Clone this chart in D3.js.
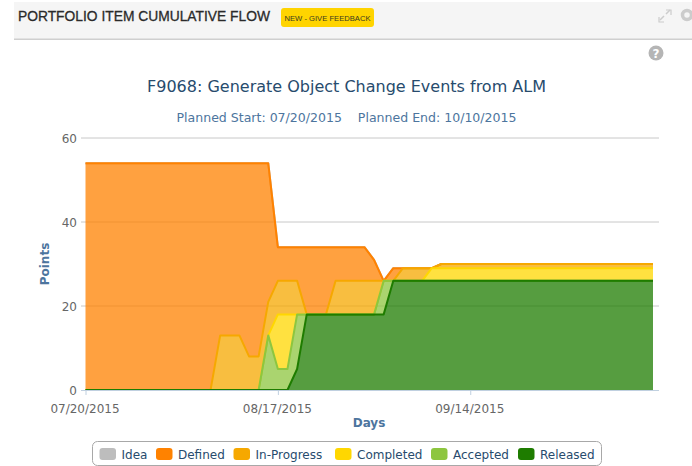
<!DOCTYPE html>
<html><head><meta charset="utf-8">
<style>
html,body{margin:0;padding:0;background:#fff;overflow:hidden}
svg{display:block}
text{font-family:"DejaVu Sans",sans-serif}
</style>
<script src="https://cdn.jsdelivr.net/npm/d3@7"></script>
</head><body>
<script>
const categories=["07/20/2015","07/21/2015","07/22/2015","07/23/2015","07/24/2015","07/27/2015","07/28/2015","07/29/2015","07/30/2015","07/31/2015",
"08/03/2015","08/04/2015","08/05/2015","08/06/2015","08/07/2015","08/10/2015","08/11/2015","08/12/2015","08/13/2015","08/14/2015",
"08/17/2015","08/18/2015","08/19/2015","08/20/2015","08/21/2015","08/24/2015","08/25/2015","08/26/2015","08/27/2015","08/28/2015",
"08/31/2015","09/01/2015","09/02/2015","09/03/2015","09/04/2015","09/07/2015","09/08/2015","09/09/2015","09/10/2015","09/11/2015",
"09/14/2015","09/15/2015","09/16/2015","09/17/2015","09/18/2015","09/21/2015","09/22/2015","09/23/2015","09/24/2015","09/25/2015",
"09/28/2015","09/29/2015","09/30/2015","10/01/2015","10/02/2015","10/05/2015","10/06/2015","10/07/2015","10/08/2015","10/09/2015"];
const xTickLabels=["07/20/2015","08/17/2015","09/14/2015"];
const yTickValues=[0,20,40,60];
const seriesNames=["Idea","Defined","In-Progress","Completed","Accepted","Released"];
const seriesColors=["#BDBDBD","#FF8200","#F6A800","#FFD700","#8DC63F","#1E7C00"];
const idea=[0,0,0,0,0,0,0,0,0,0,0,0,0,0,0,0,0,0,0,0,0,0,0,0,0,0,0,0,0,0,0,0,0,0,0,0,0,0,0,0,0,0,0,0,0,0,0,0,0,0,0,0,0,0,0,0,0,0,0,0];
const defined=[54,54,54,54,54,54,54,54,54,54,54,54,54,54,41,41,41,46,46,33,8,8,8,16,16,16,8,8,8,8,5,0,3,0,0,0,0,0,0,0,0,0,0,0,0,0,0,0,0,0,0,0,0,0,0,0,0,0,0,0];
const inProgress=[0,0,0,0,0,0,0,0,0,0,0,0,0,0,13,13,13,8,8,8,8,8,8,0,0,0,8,8,8,8,8,0,0,3,3,3,0,1,1,1,1,1,1,1,1,1,1,1,1,1,1,1,1,1,1,1,1,1,1,1];
const completed=[0,0,0,0,0,0,0,0,0,0,0,0,0,0,0,0,0,0,0,0,13,13,0,0,0,0,0,0,0,0,0,0,0,0,0,0,3,3,3,3,3,3,3,3,3,3,3,3,3,3,3,3,3,3,3,3,3,3,3,3];
const accepted=[0,0,0,0,0,0,0,0,0,0,0,0,0,0,0,0,0,0,0,13,5,5,13,0,0,0,0,0,0,0,0,8,0,0,0,0,0,0,0,0,0,0,0,0,0,0,0,0,0,0,0,0,0,0,0,0,0,0,0,0];
const released=[0,0,0,0,0,0,0,0,0,0,0,0,0,0,0,0,0,0,0,0,0,0,5,18,18,18,18,18,18,18,18,18,26,26,26,26,26,26,26,26,26,26,26,26,26,26,26,26,26,26,26,26,26,26,26,26,26,26,26,26];

const W=692,H=466;
const svg=d3.select("body").append("svg").attr("width",W).attr("height",H);

// header
svg.append("rect").attr("x",14).attr("y",2).attr("width",W-14).attr("height",37).attr("fill","#F5F5F5");
svg.append("rect").attr("x",14).attr("y",38.5).attr("width",W-14).attr("height",1.5).attr("fill","#CFCFCF");
svg.append("text").attr("x",18).attr("y",21).attr("font-size",14).attr("fill","#2a2a2a")
  .style("font-family","'Liberation Sans',sans-serif").style("paint-order","stroke").attr("stroke","#2a2a2a").attr("stroke-width",0.3)
  .attr("textLength",252).attr("lengthAdjust","spacingAndGlyphs").text("PORTFOLIO ITEM CUMULATIVE FLOW");
svg.append("rect").attr("x",281).attr("y",8).attr("width",93).attr("height",19).attr("rx",3).attr("fill","#FFD400");
svg.append("text").attr("x",327.5).attr("y",20.5).attr("text-anchor","middle").attr("font-size",8).attr("font-weight",400).attr("fill","#3a3a20")
  .style("font-family","'Liberation Sans',sans-serif").attr("textLength",86).attr("lengthAdjust","spacingAndGlyphs").text("NEW - GIVE FEEDBACK");
// expand + gear icons
const icon=svg.append("g").attr("stroke","#CCCCCC").attr("fill","none");
icon.append("path").attr("d","M660 20 L664 16 M666 14 L670 10").attr("stroke-width",1.5);
icon.append("path").attr("d","M666 10 h5 v5 M659 17 v5 h5").attr("stroke-width",1.2);
svg.append("circle").attr("cx",687).attr("cy",15).attr("r",4.5).attr("fill","none").attr("stroke","#CCCCCC").attr("stroke-width",3.5);
// help
svg.append("circle").attr("cx",656).attr("cy",53).attr("r",7.5).attr("fill","#B5B5B5");
svg.append("text").attr("x",656).attr("y",57.5).attr("text-anchor","middle").attr("font-size",12).attr("font-weight",700).attr("fill","#fff").text("?");

// titles
svg.append("text").attr("x",346.5).attr("y",92).attr("text-anchor","middle").attr("font-size",16).attr("fill","#274B6D")
  .attr("textLength",399).attr("lengthAdjust","spacingAndGlyphs").text("F9068: Generate Object Change Events from ALM");
svg.append("text").attr("x",346.5).attr("y",122).attr("text-anchor","middle").attr("font-size",12).attr("fill","#4D759E")
  .attr("textLength",340).attr("lengthAdjust","spacingAndGlyphs").style("white-space","pre").text("Planned Start: 07/20/2015    Planned End: 10/10/2015");

// scales
const x=d3.scalePoint().domain(categories).range([85.5,653]);
const y=d3.scaleLinear().domain([0,60]).range([390,138]);

// grid
const gridL=81,gridR=659;
svg.append("g").selectAll("line").data(yTickValues.filter(v=>v>0)).join("line")
  .attr("x1",gridL).attr("x2",gridR).attr("y1",d=>y(d)).attr("y2",d=>y(d)).attr("stroke","#C8C8C8").attr("stroke-width",1);

// stacked areas
const rows=categories.map((c,i)=>({c,Idea:idea[i],Defined:defined[i],"In-Progress":inProgress[i],Completed:completed[i],Accepted:accepted[i],Released:released[i]}));
const stack=d3.stack().keys(seriesNames.slice().reverse())(rows);
const byName=new Map(stack.map(s=>[s.key,s]));
const area=d3.area().x(d=>x(d.data.c)).y0(d=>y(d[0])).y1(d=>y(d[1]));
const line=d3.line().x(d=>x(d.data.c)).y(d=>y(d[1]));
seriesNames.forEach((n,i)=>{
  const s=byName.get(n);
  svg.append("path").datum(s).attr("d",area).attr("fill",seriesColors[i]).attr("fill-opacity",0.75);
  svg.append("path").datum(s).attr("d",line).attr("fill","none").attr("stroke",seriesColors[i]).attr("stroke-width",2).attr("stroke-linejoin","round");
});

// axes
const gx=svg.append("g").attr("transform","translate(0,390)")
  .call(d3.axisBottom(x).tickValues(xTickLabels).tickSize(5).tickPadding(9));
gx.select(".domain").remove();
gx.append("line").attr("x1",gridL).attr("x2",gridR).attr("y1",0.5).attr("y2",0.5).attr("stroke","#C0D0E0");
gx.selectAll(".tick line").attr("stroke","#C0D0E0");
gx.selectAll(".tick text").attr("fill","#666").attr("font-size",12).attr("dx",-1).style("font-family","'DejaVu Sans',sans-serif");

const gy=svg.append("g").attr("transform","translate(77,0.5)")
  .call(d3.axisLeft(y).tickValues(yTickValues).tickSize(0).tickPadding(0));
gy.select(".domain").remove();
gy.selectAll("text").attr("fill","#666").attr("font-size",12).style("font-family","'DejaVu Sans',sans-serif");

svg.append("text").attr("x",369).attr("y",427).attr("text-anchor","middle").attr("font-size",12).attr("font-weight",700).attr("fill","#4D759E").text("Days");
svg.append("text").attr("transform","translate(49,264) rotate(-90)").attr("text-anchor","middle").attr("font-size",12).attr("font-weight",700).attr("fill","#4D759E").text("Points");

// legend
svg.append("rect").attr("x",92.5).attr("y",441.5).attr("width",509).attr("height",24).attr("rx",5).attr("fill","#fff").attr("stroke","#A8A8A8");
const legendX=[99.5,156,233.5,335,431,518];
const lg=svg.append("g").selectAll("g").data(seriesNames).join("g").attr("transform",(d,i)=>`translate(${legendX[i]},448)`);
lg.append("rect").attr("width",16.5).attr("height",12).attr("rx",3).attr("fill",(d,i)=>seriesColors[i]);
lg.append("text").attr("x",22).attr("y",10.5).attr("font-size",12).attr("fill","#274B6D").text(d=>d);
</script>
</body></html>
